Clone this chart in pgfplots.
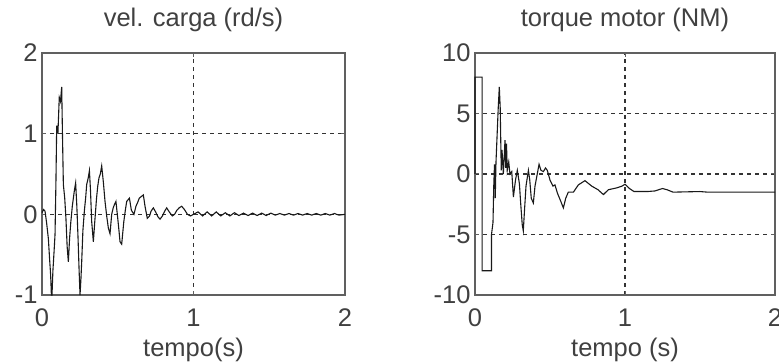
\documentclass[border=0pt]{standalone}
\usepackage{pgfplots}
\pgfplotsset{compat=1.18}
\usepackage{fontspec}
\setmainfont{Liberation Sans}
\definecolor{txt}{HTML}{404040}
\definecolor{ax}{HTML}{606060}
\pgfplotsset{
  mystyle/.style={
    anchor=south west, scale only axis,
    height=242pt,
    xmin=0, xmax=2, xtick={0,1,2},
    grid=major,
    major grid style={black!80, line width=1.1pt, dash pattern=on 4pt off 4pt},
    axis line style={ax, line width=1.5pt},
    tick style={ax, line width=1pt},
    tick align=inside, major tick length=4pt,
    every tick label/.append style={font=\fontsize{25.5}{30}\selectfont, text=txt},
    /pgf/number format/assume math mode=true,
    xticklabel style={anchor=base, yshift=-28pt-\pgfkeysvalueof{/pgfplots/major tick length}},
    xticklabel style={yshift=0pt},
    title style={font=\fontsize{25.5}{30}\selectfont, text=txt, at={(0.5,1)}, anchor=base, yshift=20pt},
    xlabel style={font=\fontsize{25.5}{30}\selectfont, text=txt, at={(0.5,0)}, anchor=base, yshift=-62pt},
    yticklabel style={xshift=-1pt},
    clip=false,
  }
}
\begin{document}
\begin{tikzpicture}
\useasboundingbox (0,0) rectangle (779pt,363pt);
\begin{axis}[mystyle, at={(42pt,68pt)}, width=303pt,
  ymin=-1, ymax=2, ytick={-1,0,1,2},
  title={vel. carga (rd/s)}, xlabel={tempo(s)}]
\addplot[black!90, line width=1.1pt] coordinates {
(0,0.02) (0.01,0.06) (0.02,0.04) (0.03,-0.1) (0.042,-0.3) (0.05,-0.55) (0.057,-0.75)
(0.062,-1.0) (0.066,-1.0) (0.072,-0.7) (0.08,-0.45) (0.086,-0.25) (0.092,0.4) (0.097,1.1)
(0.105,1.0) (0.114,1.45) (0.122,1.4) (0.13,1.58) (0.135,1.0) (0.141,0.37) (0.15,0.2)
(0.158,-0.05) (0.166,-0.4) (0.174,-0.59) (0.182,-0.3) (0.19,-0.1) (0.2,0.1) (0.207,0.2)
(0.214,0.3) (0.222,0.39) (0.23,0.1) (0.238,-0.3) (0.245,-0.7) (0.251,-1.0) (0.257,-0.8)
(0.262,-0.59) (0.27,-0.2) (0.28,0.05) (0.288,0.2) (0.295,0.37) (0.305,0.45) (0.313,0.54)
(0.32,0.3) (0.328,-0.09) (0.339,-0.34) (0.348,-0.1) (0.36,0.2) (0.368,0.35) (0.376,0.45)
(0.385,0.5) (0.394,0.6) (0.405,0.4) (0.416,0.16) (0.427,-0.02) (0.438,-0.17) (0.449,-0.24)
(0.46,0.0) (0.47,0.08) (0.478,0.12) (0.488,0.16) (0.5,-0.05) (0.508,-0.2) (0.515,-0.34)
(0.526,-0.37) (0.54,-0.09) (0.55,0.05) (0.559,0.16) (0.568,0.18) (0.577,0.2) (0.59,0.05)
(0.607,0.0) (0.62,0.1) (0.632,0.15) (0.642,0.2) (0.655,0.22) (0.669,0.24) (0.68,0.1)
(0.695,-0.05) (0.71,-0.02) (0.72,0.04) (0.735,0.08) (0.75,0.03) (0.765,-0.03) (0.779,-0.06)
(0.795,-0.02) (0.81,0.04) (0.823,0.08) (0.84,0.03) (0.86,-0.02) (0.875,0.0) (0.89,0.05)
(0.905,0.08) (0.922,0.1) (0.94,0.06) (0.96,0.0) (0.98,-0.02) (1.0,0.0)
(1.03,0.03) (1.06,-0.02) (1.09,0.03) (1.12,-0.02) (1.15,0.03) (1.18,-0.02) (1.21,0.02)
(1.24,-0.02) (1.27,0.02) (1.3,-0.015) (1.33,0.015) (1.36,-0.015) (1.39,0.015) (1.42,-0.015)
(1.45,0.015) (1.48,-0.015) (1.51,0.015) (1.54,-0.01) (1.57,0.01) (1.6,-0.01) (1.63,0.01)
(1.66,-0.01) (1.69,0.01) (1.72,-0.01) (1.75,0.01) (1.78,-0.01) (1.81,0.01) (1.84,-0.01)
(1.87,0.01) (1.9,-0.01) (1.93,0.01) (1.96,-0.01) (2.0,0.0)
};
\end{axis}
\begin{axis}[mystyle, at={(475pt,68pt)}, width=300pt,
  ymin=-10, ymax=10, ytick={-10,-5,0,5,10},
  title={torque motor (NM)}, xlabel={tempo (s)}]
\addplot[black!90, line width=1.1pt] coordinates {
(0,0) (0,8) (0.047,8) (0.047,-8) (0.11,-8) (0.11,-5) (0.12,-4) (0.125,-1) (0.13,0.8)
(0.135,-2) (0.14,1) (0.15,4) (0.155,5.5) (0.162,7.2) (0.168,5.5) (0.175,0.3) (0.18,2)
(0.189,0) (0.195,1.5) (0.2,2.8) (0.205,0.5) (0.21,2.5) (0.215,0.3) (0.225,1) (0.233,0)
(0.245,0.2) (0.256,-1.9) (0.27,-0.5) (0.282,0.3) (0.296,-0.8) (0.305,-2.5) (0.315,-4.2)
(0.322,-4.7) (0.33,-3) (0.34,-1) (0.356,0.3) (0.365,-0.5) (0.375,-2.0) (0.389,-2.4)
(0.4,-1) (0.415,0) (0.427,0.8) (0.44,0.3) (0.456,0.2) (0.47,0.5) (0.482,0.3) (0.5,-0.5)
(0.52,-1.0) (0.533,-0.9) (0.55,-1.6) (0.57,-2.2) (0.589,-2.8) (0.605,-2.0) (0.622,-1.5)
(0.656,-1.5) (0.689,-0.9) (0.733,-0.55) (0.778,-1.0) (0.82,-1.3) (0.856,-1.7) (0.889,-1.3)
(0.944,-1.15) (0.98,-1.0) (1.0,-0.85) (1.03,-1.2) (1.06,-1.45) (1.15,-1.45) (1.2,-1.4)
(1.25,-1.2) (1.28,-1.3) (1.32,-1.5) (1.5,-1.45) (1.55,-1.5) (2,-1.5)
};
\end{axis}
\end{tikzpicture}
\end{document}
